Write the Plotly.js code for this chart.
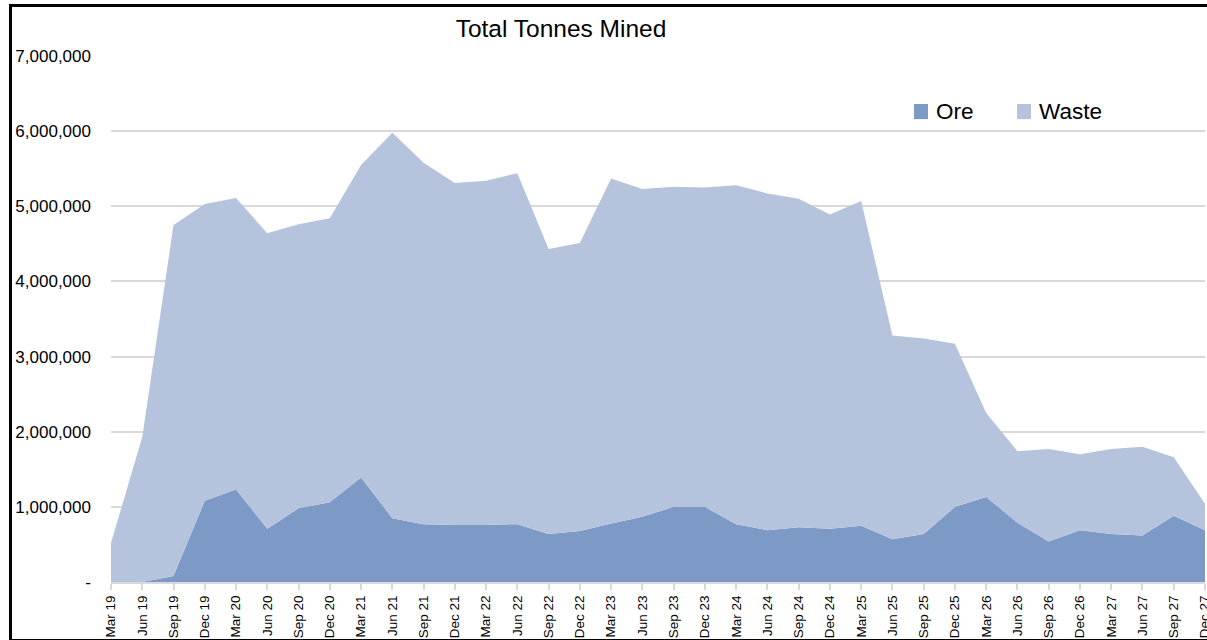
<!DOCTYPE html>
<html>
<head>
<meta charset="utf-8">
<script src="https://cdn.plot.ly/plotly-3.0.1.min.js"></script>
<style>
  html, body { margin: 0; padding: 0; background: #fff; }
  #chart { width: 1207px; height: 640px; position: absolute; left: 0; top: 0; }
  #frame { position: absolute; left: 9px; top: 4px; width: 1210px; height: 632px;
           border: 3px solid #000; pointer-events: none; box-sizing: content-box; }
</style>
</head>
<body>
<div id="chart"></div>
<div id="frame"></div>
<script>
const quarters = ["Mar 19","Jun 19","Sep 19","Dec 19","Mar 20","Jun 20","Sep 20","Dec 20",
  "Mar 21","Jun 21","Sep 21","Dec 21","Mar 22","Jun 22","Sep 22","Dec 22",
  "Mar 23","Jun 23","Sep 23","Dec 23","Mar 24","Jun 24","Sep 24","Dec 24",
  "Mar 25","Jun 25","Sep 25","Dec 25","Mar 26","Jun 26","Sep 26","Dec 26",
  "Mar 27","Jun 27","Sep 27","Dec 27"];

const oreTonnes = [0, 0, 80000, 1080000, 1230000, 710000, 980000, 1060000,
  1390000, 850000, 770000, 760000, 760000, 770000, 640000, 680000,
  780000, 870000, 1000000, 1000000, 770000, 690000, 730000, 710000,
  750000, 570000, 640000, 1000000, 1130000, 790000, 540000, 690000,
  640000, 620000, 880000, 690000];

const wasteTonnes = [520000, 1930000, 4670000, 3950000, 3880000, 3930000, 3780000, 3780000,
  4160000, 5130000, 4810000, 4550000, 4580000, 4670000, 3790000, 3830000,
  4590000, 4360000, 4260000, 4250000, 4510000, 4480000, 4370000, 4180000,
  4320000, 2710000, 2600000, 2170000, 1120000, 950000, 1230000, 1010000,
  1130000, 1180000, 780000, 350000];

const yTickVals = [0, 1000000, 2000000, 3000000, 4000000, 5000000, 6000000, 7000000];
const yTickText = ["-", "1,000,000", "2,000,000", "3,000,000", "4,000,000", "5,000,000", "6,000,000", "7,000,000"];

const seriesNames = ["Ore", "Waste"];
const oreColor = "#7D9AC6";
const wasteColor = "#B5C3DD";

const FONT = '"Liberation Sans", Arial, sans-serif';

const traces = [
  { x: quarters, y: oreTonnes, name: seriesNames[0], type: "scatter", mode: "none",
    stackgroup: "one", fillcolor: oreColor, line: { width: 0 }, showlegend: false, hoverinfo: "x+y+name" },
  { x: quarters, y: wasteTonnes, name: seriesNames[1], type: "scatter", mode: "none",
    stackgroup: "one", fillcolor: wasteColor, line: { width: 0 }, showlegend: false, hoverinfo: "x+y+name" }
];

const layout = {
  width: 1207, height: 640,
  margin: { l: 111, r: 2, t: 56, b: 58 },
  paper_bgcolor: "#fff", plot_bgcolor: "#fff",
  font: { family: FONT, color: "#000" },
  title: { text: "Total Tonnes Mined", x: 0.4648, xref: "container", xanchor: "center",
           y: 0.955, yref: "container", yanchor: "middle",
           font: { family: FONT, size: 24.5, color: "#000" } },
  showlegend: false,
  xaxis: {
    type: "category", range: [0, quarters.length - 1],
    showgrid: false, zeroline: false,
    showline: true, linecolor: "#D9D9D9", linewidth: 2,
    ticks: "outside", ticklen: 6, tickcolor: "#D9D9D9", tickwidth: 2,
    tickangle: -90, tickfont: { family: FONT, size: 13.5, color: "#000" },
    fixedrange: true
  },
  yaxis: {
    range: [0, 7000000], tickvals: yTickVals, ticktext: yTickText,
    showgrid: true, gridcolor: "#D9D9D9", gridwidth: 2,
    zeroline: false, showline: false, ticks: "",
    ticklabelstandoff: 19,
    tickfont: { family: FONT, size: 17, color: "#000" },
    fixedrange: true
  },
  shapes: [
    { type: "rect", xref: "paper", yref: "paper", x0: 0.734, x1: 0.7468, y0: 0.880, y1: 0.9087,
      fillcolor: oreColor, line: { width: 0 } },
    { type: "rect", xref: "paper", yref: "paper", x0: 0.8282, x1: 0.841, y0: 0.880, y1: 0.9087,
      fillcolor: wasteColor, line: { width: 0 } }
  ],
  annotations: [
    { text: seriesNames[0], xref: "paper", yref: "paper", x: 0.7520, y: 0.8954,
      xanchor: "left", yanchor: "middle", showarrow: false,
      font: { family: FONT, size: 22.5, color: "#000" } },
    { text: seriesNames[1], xref: "paper", yref: "paper", x: 0.8461, y: 0.8954,
      xanchor: "left", yanchor: "middle", showarrow: false,
      font: { family: FONT, size: 22.5, color: "#000" } }
  ]
};

Plotly.newPlot("chart", traces, layout, { displayModeBar: false, staticPlot: true });
</script>
</body>
</html>
